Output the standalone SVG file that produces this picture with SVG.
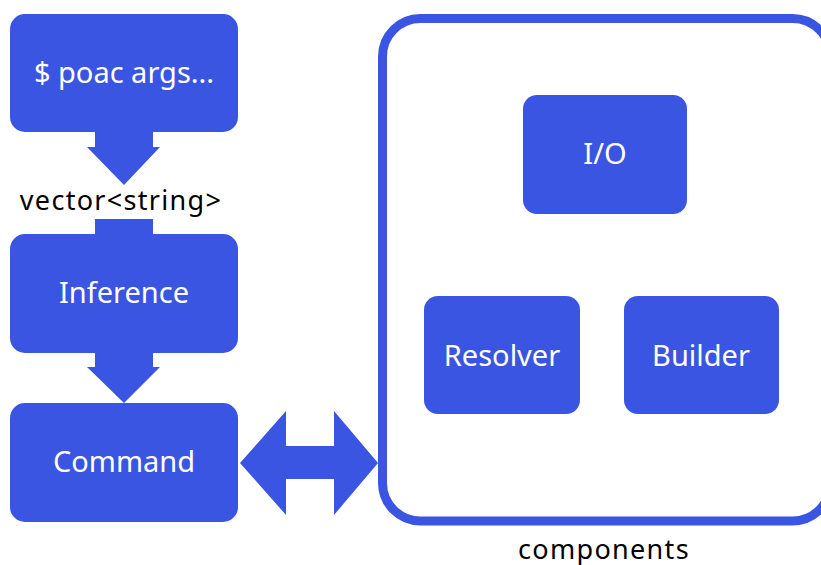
<svg xmlns="http://www.w3.org/2000/svg" width="821" height="565" viewBox="0 0 821 565">
<style>
.box{fill:#3a55e1}
.arr{fill:#3a55e1}
.lbl{fill:#ffffff;font-family:"Noto Sans",sans-serif;font-size:29px;text-anchor:middle}
.cap{fill:#000000;font-family:"Noto Sans",sans-serif;font-size:27px;letter-spacing:1.3px;text-anchor:middle}
</style>
<rect width="821" height="565" fill="#ffffff"/>
<g id="components">
<rect x="382.5" y="18.5" width="448" height="502.5" rx="38" fill="none" stroke="#3a55e1" stroke-width="9"/>
<text class="cap" x="604" y="559">components</text>
</g>
<g id="connectors">
<polygon class="arr" points="95,131 153,131 153,147 160,147 124,185 87,147 95,147"/>
<rect class="arr" x="95" y="219" width="58" height="16"/>
<polygon class="arr" points="95,352 153,352 153,367 160,367 124,403 87,367 95,367"/>
<polygon class="arr" points="240,463 286,411 286,446 334,446 334,411 378,463 334,515 334,479 286,479 286,515"/>
<text class="cap" x="121" y="210">vector&lt;string&gt;</text>
</g>
<g id="poac">
<rect class="box" x="10" y="14" width="228" height="118" rx="15"/>
<text class="lbl" x="124" y="83">$ poac args...</text>
</g>
<g id="inference">
<rect class="box" x="10" y="234" width="228" height="119" rx="15"/>
<text class="lbl" x="124" y="303">Inference</text>
</g>
<g id="command">
<rect class="box" x="10" y="403" width="228" height="119" rx="15"/>
<text class="lbl" x="124" y="472">Command</text>
</g>
<g id="io">
<rect class="box" x="523" y="95" width="164" height="119" rx="14"/>
<text class="lbl" x="605" y="164">I/O</text>
</g>
<g id="resolver">
<rect class="box" x="424" y="296" width="156" height="118" rx="14"/>
<text class="lbl" x="502" y="366">Resolver</text>
</g>
<g id="builder">
<rect class="box" x="624" y="296" width="155" height="118" rx="14"/>
<text class="lbl" x="701" y="366">Builder</text>
</g>
</svg>
